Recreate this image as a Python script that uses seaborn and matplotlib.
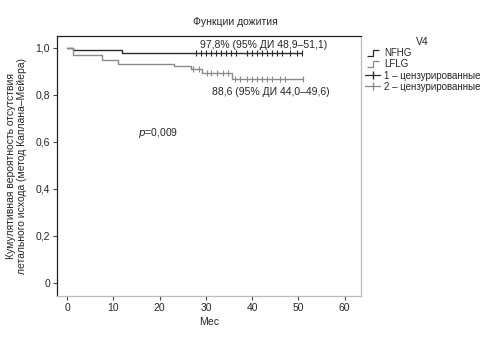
import numpy as np
import pandas as pd
import seaborn as sns
import matplotlib.pyplot as plt
from matplotlib.lines import Line2D
from matplotlib.path import Path

# Kaplan-Meier step data (months, survival)
nfhg_t = [0, 1.2, 11.8, 50.8]
nfhg_s = [1.0, 0.989, 0.978, 0.978]
nfhg_cens = [27.9, 29.0, 30.0, 31.1, 32.2, 33.3, 34.3, 35.4, 36.5,
             38.9, 40.0, 41.0, 42.1, 43.2, 44.3, 45.4, 46.4, 48.2, 49.7, 50.8]

lflg_t = [0, 1.2, 7.5, 11.1, 23.0, 26.8, 29.1, 35.6, 51.0]
lflg_s = [1.0, 0.968, 0.946, 0.930, 0.922, 0.910, 0.891, 0.867, 0.867]
lflg_cens = [27.3, 28.4, 30.2, 31.2, 32.3, 33.7, 34.8, 36.3, 37.4,
             38.9, 40.0, 41.0, 42.1, 43.2, 44.3, 46.0, 47.1, 51.0]

colors = {"NFHG": "#2a2a2a", "LFLG": "#8a8a8a"}

df = pd.concat([
    pd.DataFrame({"t": nfhg_t, "s": nfhg_s, "g": "NFHG"}),
    pd.DataFrame({"t": lflg_t, "s": lflg_s, "g": "LFLG"}),
])

def at(t, times, surv):
    idx = np.searchsorted(times, t, side="right") - 1
    return np.array(surv)[idx]

cens = pd.concat([
    pd.DataFrame({"t": nfhg_cens, "s": at(nfhg_cens, nfhg_t, nfhg_s), "g": "NFHG"}),
    pd.DataFrame({"t": lflg_cens, "s": at(lflg_cens, lflg_t, lflg_s), "g": "LFLG"}),
])

sns.set_theme(style="white")
plt.rcParams["font.family"] = ["Liberation Sans", "DejaVu Sans"]

fig = plt.figure(figsize=(4.85, 3.52), dpi=100)
ax = fig.add_axes([0.1175, 0.159, 0.6265, 0.739])

sns.lineplot(data=df, x="t", y="s", hue="g", palette=colors, drawstyle="steps-post",
             estimator=None, linewidth=1.0, legend=False, ax=ax)
sns.scatterplot(data=cens, x="t", y="s", hue="g", palette=colors, marker="|",
                s=16, linewidth=0.8, legend=False, ax=ax)

ax.set_xlim(-2.2, 63.5)
ax.set_ylim(-0.057, 1.05)
ax.set_xticks(range(0, 61, 10))
yt = [0, 0.2, 0.4, 0.6, 0.8, 1.0]
ax.set_yticks(yt)
ax.set_yticklabels(["0" if v == 0 else f"{v:.1f}".replace(".", ",") for v in yt])
ax.tick_params(axis="both", which="both", direction="out", length=3, width=0.8,
               labelsize=7.5, color="#444", bottom=True, left=True, pad=2)

for side in ["top", "left"]:
    ax.spines[side].set_color("#222")
    ax.spines[side].set_linewidth(0.9)
for side in ["bottom", "right"]:
    ax.spines[side].set_color("#bbbbbb")
    ax.spines[side].set_linewidth(0.9)

ax.set_xlabel("Мес", fontsize=7.5, labelpad=3)
ax.set_ylabel("Кумулятивная вероятность отсутствия\nлетального исхода (метод Каплана–Мейера)",
              fontsize=7.5, labelpad=6)

ax.text(42.4, 1.011, "97,8% (95% ДИ 48,9–51,1)", fontsize=7.5, ha="center", va="center")
ax.text(44.0, 0.81, "88,6 (95% ДИ 44,0–49,6)", fontsize=7.5, ha="center", va="center")
ax.text(15.3, 0.637, r"$\it{p}$=0,009", fontsize=7.5, ha="left", va="center")

fig.text(0.485, 1 - 22 / 352, "Функции дожития", fontsize=7.5, ha="center", va="center")

step = Path([(-1, -0.5), (0, -0.5), (0, 0.5), (1, 0.5)],
            [Path.MOVETO, Path.LINETO, Path.LINETO, Path.LINETO])
handles = [
    Line2D([], [], linestyle="none", marker=step, markersize=9, markerfacecolor="none",
           markeredgecolor=colors["NFHG"], markeredgewidth=0.9),
    Line2D([], [], linestyle="none", marker=step, markersize=9, markerfacecolor="none",
           markeredgecolor=colors["LFLG"], markeredgewidth=0.9),
    Line2D([], [], color=colors["NFHG"], marker="|", markersize=6, linewidth=0.9),
    Line2D([], [], color=colors["LFLG"], marker="|", markersize=6, linewidth=0.9),
]
labels = ["NFHG", "LFLG", "1 – цензурированные", "2 – цензурированные"]
fig.legend(handles, labels, title="V4", loc="upper left",
           bbox_to_anchor=(0.748, 0.9), frameon=False, fontsize=7,
           title_fontsize=7.5, handlelength=1.6, handletextpad=0.4,
           labelspacing=0.12, borderaxespad=0, borderpad=0.2)

fig.savefig("out.png", dpi=100)
